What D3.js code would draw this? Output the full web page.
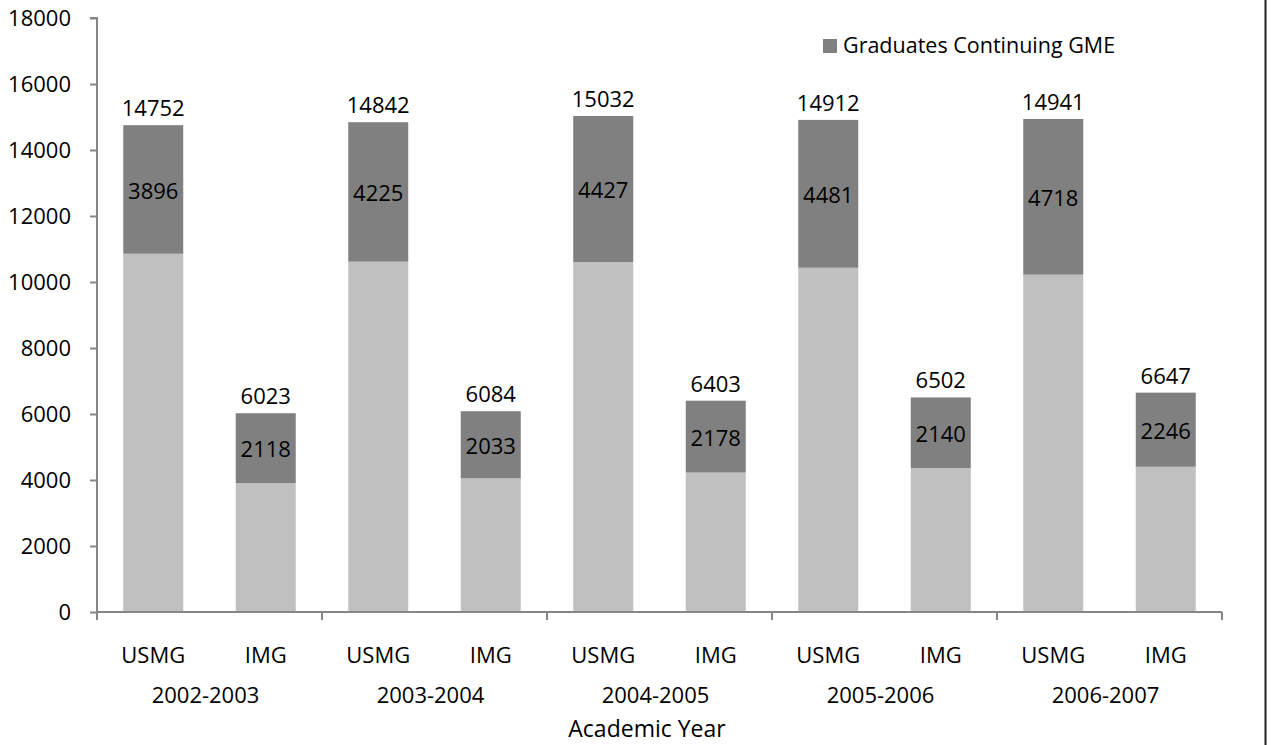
<!DOCTYPE html>
<html lang="en">
<head>
<meta charset="UTF-8">
<title>Graduates Continuing GME by Academic Year</title>
<script src="https://d3js.org/d3.v7.min.js"></script>
<style>
  body { margin: 0; background: #fff; }
  svg text { font-family: "Open Sans", sans-serif; fill: #000; }
</style>
</head>
<body>
<div id="chart"></div>
<script>
// chart values
const years = ["2002-2003", "2003-2004", "2004-2005", "2005-2006", "2006-2007"];
const groups = ["USMG", "IMG"];
const usmgTotal = [14752, 14842, 15032, 14912, 14941];
const usmgContinuing = [3896, 4225, 4427, 4481, 4718];
const imgTotal = [6023, 6084, 6403, 6502, 6647];
const imgContinuing = [2118, 2033, 2178, 2140, 2246];
const yTicks = [0, 2000, 4000, 6000, 8000, 10000, 12000, 14000, 16000, 18000];
const legendLabel = "Graduates Continuing GME";
const xTitle = "Academic Year";

// build rows: one per bar
const rows = [];
years.forEach((yr, i) => {
  rows.push({ key: yr + "|USMG", year: yr, group: "USMG", total: usmgTotal[i], continuing: usmgContinuing[i], other: usmgTotal[i] - usmgContinuing[i] });
  rows.push({ key: yr + "|IMG", year: yr, group: "IMG", total: imgTotal[i], continuing: imgContinuing[i], other: imgTotal[i] - imgContinuing[i] });
});

const W = 1271, H = 745;
const svg = d3.select("#chart").append("svg")
  .attr("width", W)
  .attr("height", H);

const m = { left: 97, right: 1222, top: 18, bottom: 612 };
const fs = "22px";

const x = d3.scaleBand()
  .domain(rows.map(d => d.key))
  .range([m.left, m.right])
  .paddingInner(0.4667)
  .paddingOuter(0.2333);

const xYear = d3.scaleBand()
  .domain(years)
  .range([m.left, m.right]);

const y = d3.scaleLinear()
  .domain([0, 18000])
  .range([m.bottom, m.top]);

const colors = { other: "#c0c0c0", continuing: "#808080" };

const stacked = d3.stack().keys(["other", "continuing"])(rows);

// bars
svg.append("g").selectAll("g")
  .data(stacked)
  .join("g")
    .attr("fill", s => colors[s.key])
  .selectAll("rect")
  .data(s => s)
  .join("rect")
    .attr("x", d => x(d.data.key))
    .attr("y", d => y(d[1]))
    .attr("width", x.bandwidth())
    .attr("height", d => y(d[0]) - y(d[1]));

// y axis
const yAxis = svg.append("g")
  .attr("transform", `translate(${m.left},0)`)
  .call(d3.axisLeft(y).tickValues(yTicks).tickSize(7).tickPadding(19).tickFormat(d3.format("d")));
yAxis.selectAll("path, line").attr("stroke", "#868686").attr("stroke-width", 2);
yAxis.selectAll("text").style("font-size", fs).attr("fill", "#000");
yAxis.select(".domain").attr("d", `M-7,${m.top}H0V${m.bottom}`);

// x axis line with group separators
const xAxis = svg.append("g")
  .attr("transform", `translate(0,${m.bottom})`);
xAxis.append("line")
  .attr("x1", m.left).attr("x2", m.right)
  .attr("stroke", "#868686").attr("stroke-width", 2);
xAxis.selectAll(".sep")
  .data(years.map(yr => xYear(yr)).concat([m.right]))
  .join("line")
    .attr("class", "sep")
    .attr("x1", d => d).attr("x2", d => d)
    .attr("y1", 0).attr("y2", 8)
    .attr("stroke", "#868686").attr("stroke-width", 2);

// category labels
svg.append("g").selectAll("text")
  .data(rows)
  .join("text")
    .attr("x", d => x(d.key) + x.bandwidth() / 2)
    .attr("y", 663)
    .attr("text-anchor", "middle")
    .style("font-size", fs)
    .text(d => d.group);

// year labels
svg.append("g").selectAll("text")
  .data(years)
  .join("text")
    .attr("x", d => xYear(d) + xYear.bandwidth() / 2 - 4)
    .attr("y", 703)
    .attr("text-anchor", "middle")
    .style("font-size", fs)
    .text(d => d);

// axis title
svg.append("text")
  .attr("x", 647)
  .attr("y", 737)
  .attr("text-anchor", "middle")
  .style("font-size", "23px")
  .text(xTitle);

// total labels above bars
svg.append("g").selectAll("text")
  .data(rows)
  .join("text")
    .attr("x", d => x(d.key) + x.bandwidth() / 2)
    .attr("y", d => y(d.total) - 9)
    .attr("text-anchor", "middle")
    .style("font-size", fs)
    .text(d => d.total);

// continuing labels in the middle of dark segment
svg.append("g").selectAll("text")
  .data(rows)
  .join("text")
    .attr("x", d => x(d.key) + x.bandwidth() / 2)
    .attr("y", d => y(d.total - d.continuing / 2))
    .attr("dy", "0.42em")
    .attr("text-anchor", "middle")
    .style("font-size", fs)
    .text(d => d.continuing);

// legend
const legend = svg.append("g").attr("transform", "translate(823,39)");
legend.append("rect")
  .attr("width", 14).attr("height", 14)
  .attr("fill", colors.continuing);
legend.append("text")
  .attr("x", 20).attr("y", 14)
  .style("font-size", "21.5px")
  .text(legendLabel);

// right frame edge
svg.append("line")
  .attr("x1", 1265.5).attr("x2", 1265.5)
  .attr("y1", 0).attr("y2", H)
  .attr("stroke", "#222").attr("stroke-width", 2);
</script>
</body>
</html>
